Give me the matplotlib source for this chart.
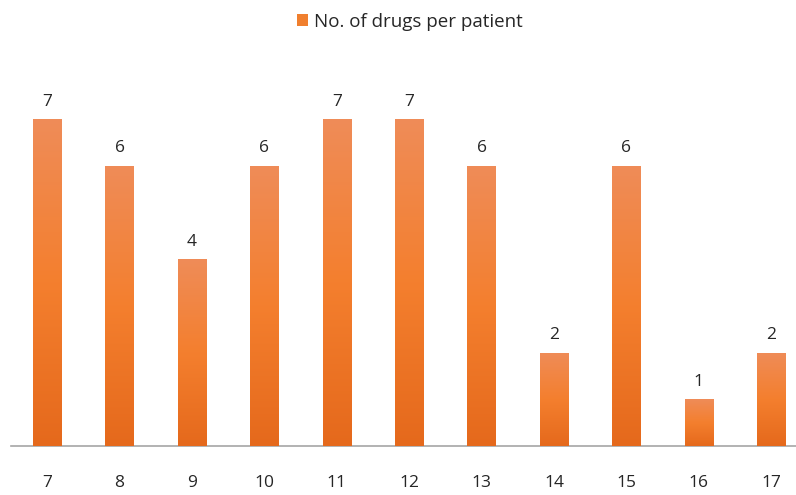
import matplotlib
matplotlib.use("Agg")
import matplotlib.pyplot as plt
import numpy as np
from matplotlib.colors import LinearSegmentedColormap

categories = ["7", "8", "9", "10", "11", "12", "13", "14", "15", "16", "17"]
values = [7, 6, 4, 6, 7, 7, 6, 2, 6, 1, 2]
series_name = "No. of drugs per patient"

plt.rcParams['font.family'] = ['Open Sans', 'DejaVu Sans']

W, H = 796, 495
fig = plt.figure(figsize=(W / 100, H / 100), dpi=100)
px_per_cat = 72.4
left_px = 11
bottom_px = 49
ymax = 8
px_per_unit = 46.7
ax = fig.add_axes([left_px / W, bottom_px / H, (W - left_px) / W, ymax * px_per_unit / H])
x = np.arange(len(categories))
ax.set_xlim(-0.5, -0.5 + (W - left_px) / px_per_cat)
ax.set_ylim(0, ymax)

bars = ax.bar(x, values, width=0.39, color="#F07F2E", label=series_name, zorder=2)

cmap = LinearSegmentedColormap.from_list("g", ["#E5691C", "#F47F2E", "#EF8C58"])
grad = np.linspace(0, 1, 256).reshape(-1, 1)
for b in bars:
    x0, y0 = b.get_x(), b.get_y()
    w, h = b.get_width(), b.get_height()
    im = ax.imshow(grad, cmap=cmap, origin="lower", aspect="auto",
                   extent=[x0, x0 + w, y0, y0 + h], zorder=3)
    im.set_clip_path(b)
    ax.text(x0 + w / 2, h + 0.2, f"{int(h)}", ha="center", va="bottom",
            fontsize=12.5, color="#262626")

for s in ["top", "right", "left"]:
    ax.spines[s].set_visible(False)
ax.spines["bottom"].set_color("#A6A6A6")
ax.spines["bottom"].set_linewidth(1.2)
ax.set_yticks([])
ax.set_xticks(x)
ax.set_xticklabels(categories, fontsize=12.5, color="#262626")
ax.tick_params(axis="x", length=0, pad=21)

leg = fig.legend(handles=[bars], labels=[series_name], loc="center",
                 bbox_to_anchor=(0.515, 1 - 22 / H), frameon=False, fontsize=13.5,
                 handlelength=0.6, handleheight=0.6, handletextpad=0.3)
for t in leg.get_texts():
    t.set_color("#262626")

fig.savefig("out.png", dpi=100)
